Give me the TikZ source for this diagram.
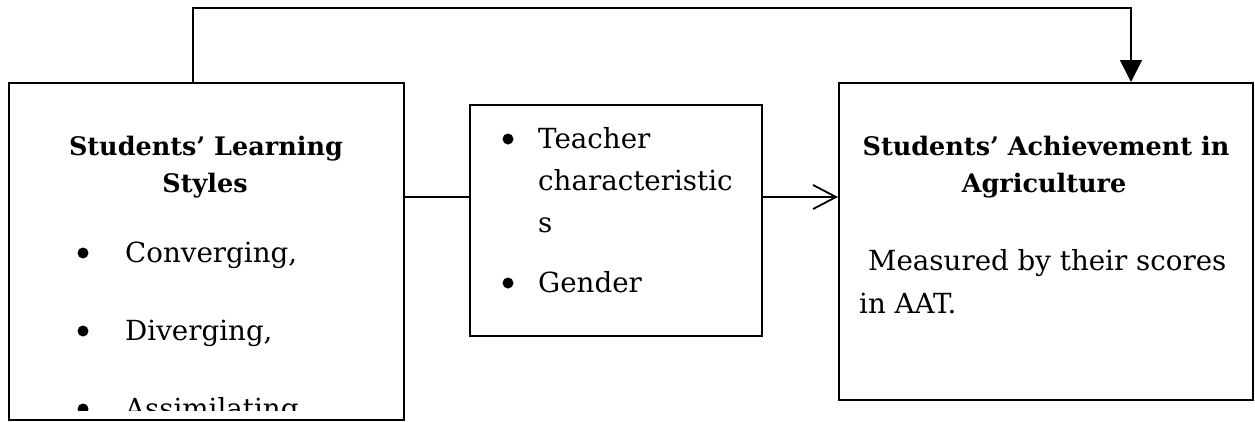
\documentclass[tikz,border=0pt]{standalone}
\usepackage{fontspec}
\setmainfont{DejaVu Serif}
\usetikzlibrary{arrows.meta}
\begin{document}
\begin{tikzpicture}[x=1pt,y=-1pt,
  box/.style={draw, line width=1.8pt, inner sep=0pt, anchor=north west},
  body/.style={font=\fontsize{27.7}{33}\selectfont, inner sep=0pt, anchor=base west},
  bul/.style={circle, fill, inner sep=0pt, minimum size=11pt},
  ttl/.style={font=\bfseries\fontsize{25.5}{30}\selectfont, inner sep=0pt, anchor=base},
  conn/.style={line width=1.8pt}]
\useasboundingbox (0,0) rectangle (1255,421);
% boxes
\node[box, minimum width=395pt, minimum height=337pt] (L) at (8,82) {};
\node[box, minimum width=292pt, minimum height=231pt] (M) at (469,104) {};
\node[box, minimum width=414pt, minimum height=317pt] (R) at (838,82) {};
% left box text
\node[ttl] (lt1) at (206,155) {Students’ Learning};
\node[ttl] (lt2) at (205,192) {Styles};
\node[bul] (lb1) at (83,253) {};
\node[body] (l1) at (125,262) {Converging,};
\node[bul] (lb2) at (83,331) {};
\node[body] (l2) at (125,340) {Diverging,};
\begin{scope}
  \clip (0,0) rectangle (1255,410);
  \node[bul] (lb3) at (83,409) {};
  \node[body] (l3) at (125,418) {Assimilating};
\end{scope}
% middle box text
\node[bul] (mb1) at (508,139) {};
\node[body] (m1) at (538,148) {Teacher};
\node[body] (m2) at (538,190) {characteristic};
\node[body] (m3) at (538,232) {s};
\node[bul] (mb2) at (508,283) {};
\node[body] (m4) at (538,292) {Gender};
% right box text
\node[ttl] (rt1) at (1046,155) {Students’ Achievement in};
\node[ttl] (rt2) at (1044,192) {Agriculture};
\node[body] (r1) at (868,270) {Measured by their scores};
\node[body] (r2) at (859,313) {in AAT.};
% connectors
\coordinate (cy) at (0,197);
\coordinate (tl) at (193,8);
\coordinate (tr) at (1131,8);
\draw[conn] (L.east |- cy) -- (M.west |- cy);
\draw[conn, -{Straight Barb[length=23pt,width=24pt,line width=1.8pt]}] (M.east |- cy) -- (R.west |- cy);
\draw[conn, -{Triangle[length=22pt,width=22pt]}] (tl |- L.north) -- (tl) -- (tr) -- (tr |- R.north);
\end{tikzpicture}
\end{document}
